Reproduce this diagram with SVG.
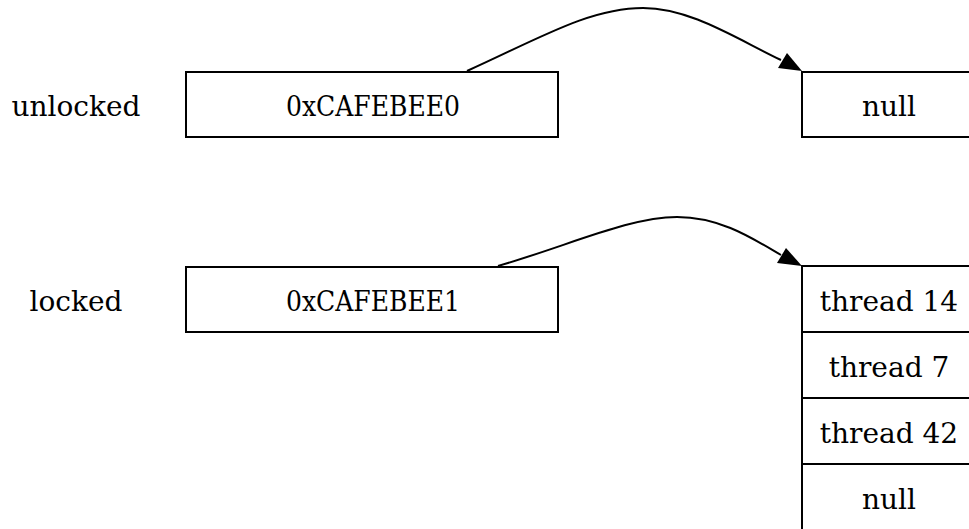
<svg xmlns="http://www.w3.org/2000/svg" width="969" height="529" viewBox="0 0 969 529">
  <style>
    text { font-family: "DejaVu Serif", "Liberation Serif", serif; font-size: 28px; fill: #000; text-anchor: middle; }
    .box { fill: #fff; stroke: #000; stroke-width: 2; }
    .edge { fill: none; stroke: #000; stroke-width: 2; }
  </style>
  <rect width="969" height="529" fill="#fff"/>

  <!-- row labels -->
  <g id="label-unlocked"><text x="76" y="116">unlocked</text></g>
  <g id="label-locked"><text x="76" y="311">locked</text></g>

  <!-- lock words -->
  <g id="word-unlocked">
    <rect class="box" x="186" y="72" width="372" height="65"/>
    <text x="373" y="116" textLength="174" lengthAdjust="spacingAndGlyphs">0xCAFEBEE0</text>
  </g>
  <g id="word-locked">
    <rect class="box" x="186" y="267" width="372" height="65"/>
    <text x="373" y="311" textLength="174" lengthAdjust="spacingAndGlyphs">0xCAFEBEE1</text>
  </g>

  <!-- empty queue -->
  <g id="queue-empty">
    <rect class="box" x="802" y="72" width="180" height="65"/>
    <text x="889" y="116">null</text>
  </g>

  <!-- waiting threads -->
  <g id="queue-waiting">
    <rect class="box" x="802" y="266" width="180" height="66"/>
    <text x="889" y="311">thread 14</text>
    <rect class="box" x="802" y="332" width="180" height="66"/>
    <text x="889" y="377">thread 7</text>
    <rect class="box" x="802" y="398" width="180" height="66"/>
    <text x="889" y="443">thread 42</text>
    <rect class="box" x="802" y="464" width="180" height="66"/>
    <text x="889" y="509">null</text>
  </g>

  <!-- pointers -->
  <g id="edges">
    <path class="edge" d="M467,71 C540,38 590,8 643,8 C690,8 735,38 781,60"/>
    <polygon points="802,71 778,68 787,53" fill="#000"/>
    <path class="edge" d="M498,266 C570,245 630,217 677,217 C720,217 752,238 781,255"/>
    <polygon points="802,266 777,263 786,248" fill="#000"/>
  </g>
</svg>
